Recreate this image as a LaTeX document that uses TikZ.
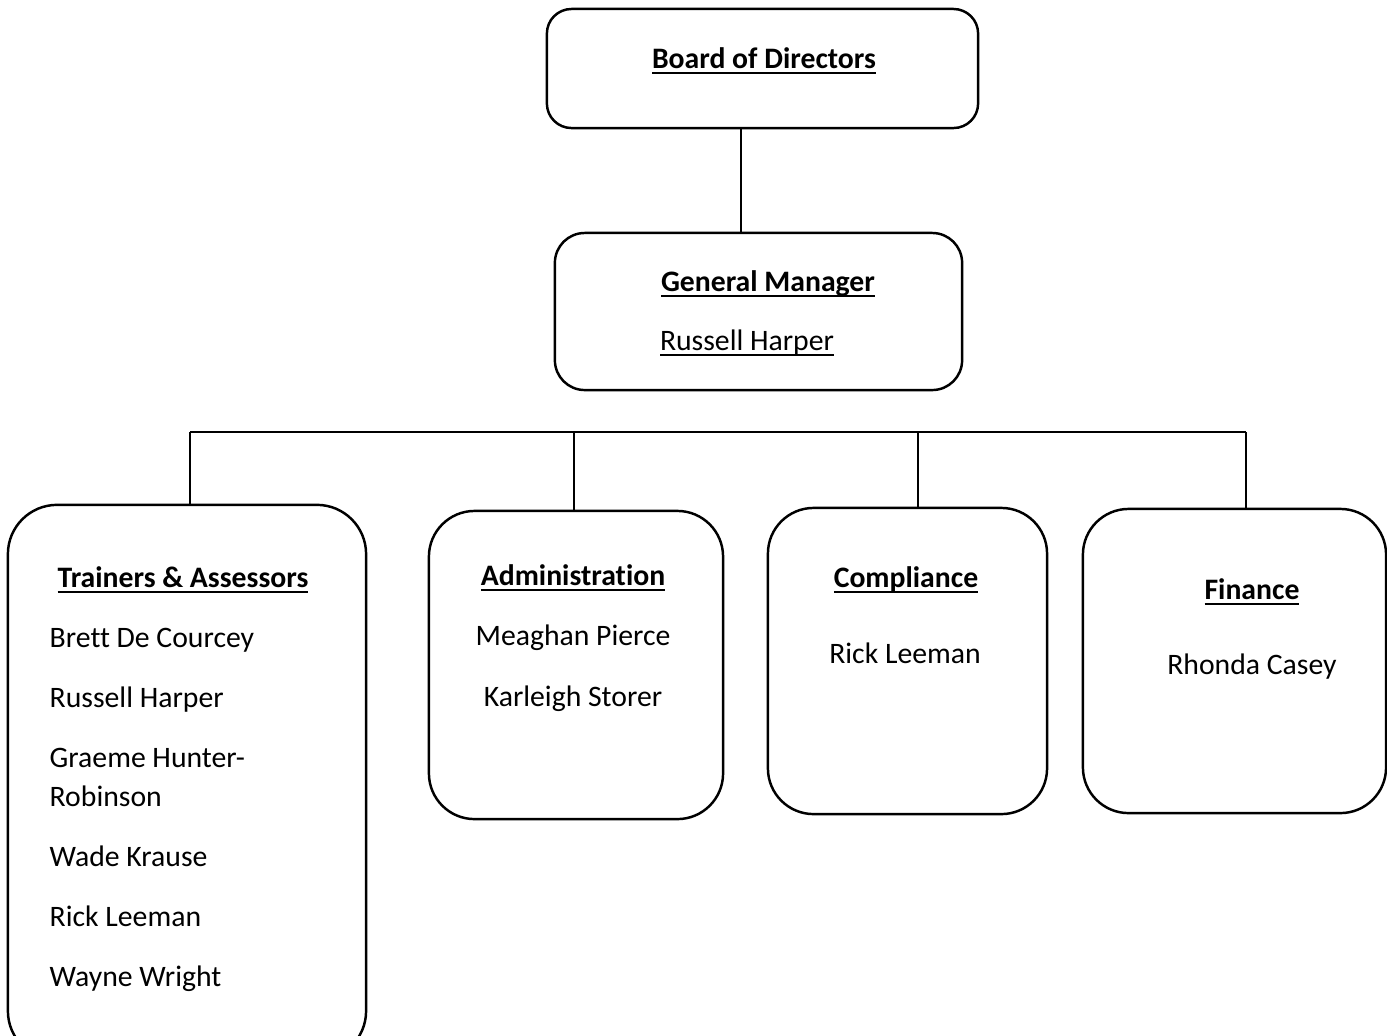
\documentclass[tikz,border=0pt]{standalone}
\usepackage{fontspec}
\setmainfont{Carlito}[RawFeature={-liga;-clig;-calt;-dlig}]
\newcommand\ulx[1]{\underline{\smash{#1}}}
\begin{document}
\begin{tikzpicture}[x=0.01cm,y=-0.01cm,
  box/.style={draw=black,line width=0.7pt,rounded corners=#1,rectangle,inner sep=0pt,outer sep=0pt},
  box/.default=9pt,
  txt/.style={anchor=base,inner sep=0pt,font=\fontsize{8.45}{11.1}\selectfont},
  ttl/.style={txt,font=\fontsize{8.45}{11.1}\selectfont\bfseries},
  conn/.style={draw=black,line width=0.6pt}]
\clip (0,0) rectangle (1387,1035);
\fill[white] (0,0) rectangle (1387,1035);
% boxes
\node[box=7pt,minimum width=4.31cm,minimum height=1.19cm] (board) at (762.5,68.5) {};
\node[box=8.5pt,minimum width=4.07cm,minimum height=1.57cm] (gm) at (758.5,311.5) {};
\node[box=14pt,minimum width=3.58cm,minimum height=5.55cm] (train) at (187,782.5) {};
\node[box=13pt,minimum width=2.94cm,minimum height=3.08cm] (admin) at (576,665) {};
\node[box=13pt,minimum width=2.79cm,minimum height=3.06cm] (comp) at (907.5,661) {};
\node[box=13pt,minimum width=3.03cm,minimum height=3.04cm] (fin) at (1234.5,661) {};
% texts
\node[ttl] (t1) at (764,68) {\ulx{Board of Directors}};
\node[ttl] (t2) at (768,291) {\ulx{General Manager}};
\node[txt] (t3) at (747,350) {\ulx{Russell Harper}};
\node[ttl] (t4) at (183,587) {\ulx{Trainers \& Assessors}};
\node[txt,anchor=base west] (n1) at (49,647) {Brett De Courcey};
\node[txt,anchor=base west] (n2) at (49,707) {Russell Harper};
\node[txt,anchor=base west] (n3) at (49,767) {Graeme Hunter-};
\node[txt,anchor=base west] (n3b) at (49,806) {Robinson};
\node[txt,anchor=base west] (n4) at (49,866) {Wade Krause};
\node[txt,anchor=base west] (n5) at (49,926) {Rick Leeman};
\node[txt,anchor=base west] (n6) at (49,986) {Wayne Wright};
\node[ttl] (t5) at (573,585) {\ulx{Administration}};
\node[txt] (a1) at (573,645) {Meaghan Pierce};
\node[txt] (a2) at (573,706) {Karleigh Storer};
\node[ttl] (t6) at (906,587) {\ulx{Compliance}};
\node[txt] (c1) at (905,663) {Rick Leeman};
\node[ttl] (t7) at (1252,599) {\ulx{Finance}};
\node[txt] (f1) at (1252,674) {Rhonda Casey};
% connectors
\coordinate (b1) at (190,432);
\coordinate (b2) at (574,432);
\coordinate (b3) at (918,432);
\coordinate (b4) at (1246,432);
\draw[conn] (board.south -| 741,0) -- (gm.north -| 741,0);
\draw[conn] (b1) -- (b4);
\draw[conn] (b1) -- (b1 |- train.north);
\draw[conn] (b2) -- (b2 |- admin.north);
\draw[conn] (b3) -- (b3 |- comp.north);
\draw[conn] (b4) -- (b4 |- fin.north);
\end{tikzpicture}
\end{document}
